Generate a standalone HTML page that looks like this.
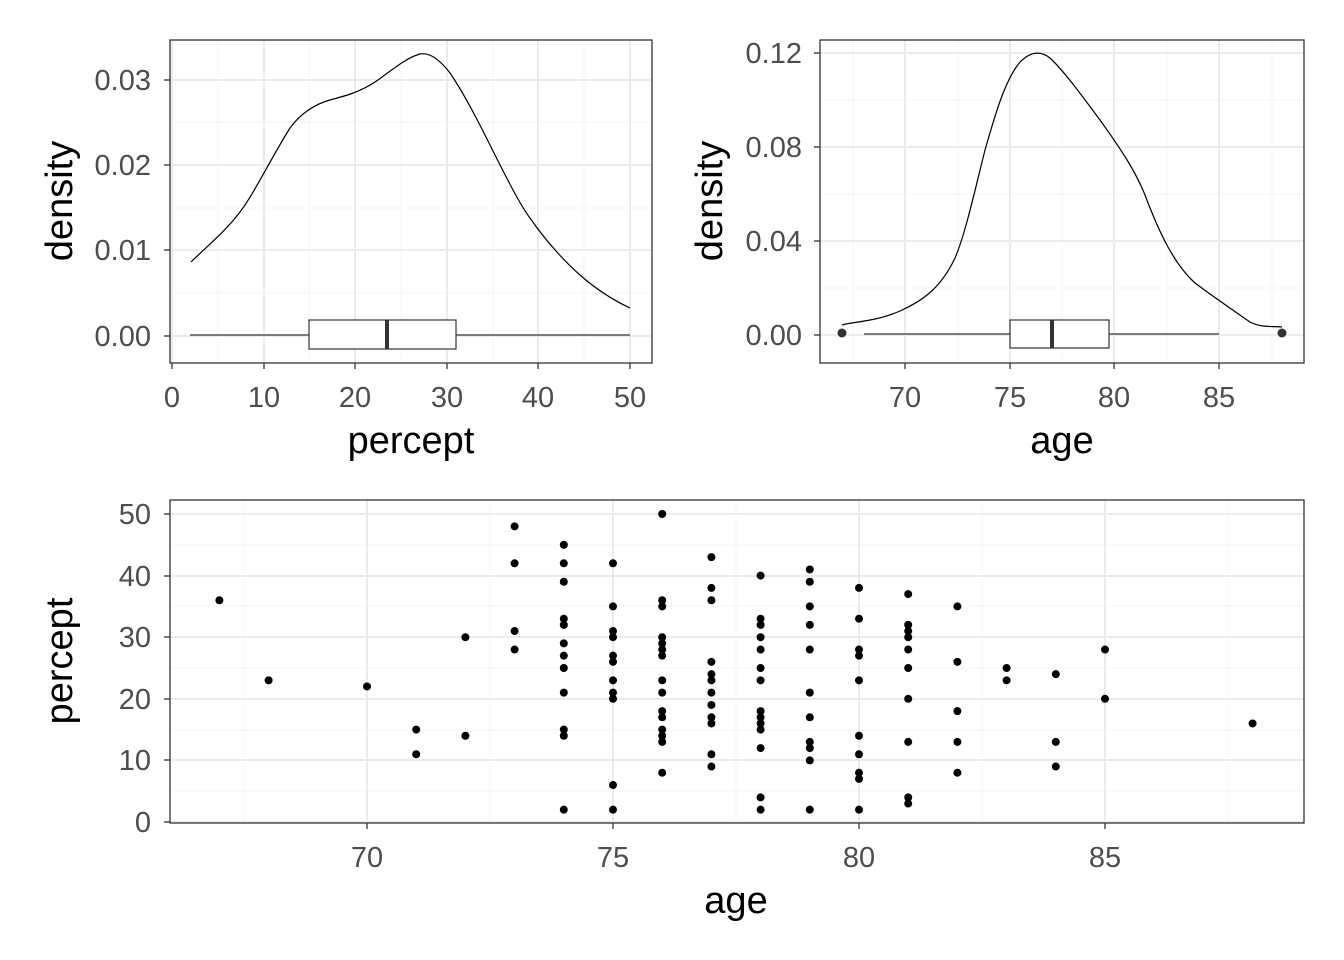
<!DOCTYPE html>
<html><head><meta charset="utf-8"><style>body{margin:0;background:#fff}svg{display:block}text{font-family:"Liberation Sans",sans-serif}</style></head>
<body>
<svg width="1344" height="960" viewBox="0 0 1344 960" xmlns="http://www.w3.org/2000/svg">
<rect width="1344" height="960" fill="#fff"/>
<!-- Panel 1 -->
<g stroke="#f5f5f5" stroke-width="1">
<line x1="218" y1="40" x2="218" y2="363"/><line x1="309" y1="40" x2="309" y2="363"/><line x1="401" y1="40" x2="401" y2="363"/><line x1="493" y1="40" x2="493" y2="363"/><line x1="584" y1="40" x2="584" y2="363"/>
<line x1="170" y1="293" x2="652" y2="293"/><line x1="170" y1="208" x2="652" y2="208"/><line x1="170" y1="122" x2="652" y2="122"/><line x1="170" y1="45" x2="652" y2="45"/>
</g>
<g stroke="#ebebeb" stroke-width="2">
<line x1="172" y1="40" x2="172" y2="363"/><line x1="264" y1="40" x2="264" y2="363"/><line x1="355" y1="40" x2="355" y2="363"/><line x1="447" y1="40" x2="447" y2="363"/><line x1="538" y1="40" x2="538" y2="363"/><line x1="630" y1="40" x2="630" y2="363"/>
<line x1="170" y1="336" x2="652" y2="336"/><line x1="170" y1="250" x2="652" y2="250"/><line x1="170" y1="165" x2="652" y2="165"/><line x1="170" y1="80" x2="652" y2="80"/>
</g>
<path d="M191,262 C205,248 225,232 240,212 C255,192 270,160 290,128 C300,114 315,104 330,100 C345,96 360,92 375,82 C390,72 405,58 420,54 C430,52 440,60 450,73 C465,95 480,125 490,145 C505,175 520,205 530,218 C545,240 565,262 580,275 C597,290 615,301 630,308" fill="none" stroke="#000" stroke-width="1.2"/>
<line x1="190" y1="335" x2="309" y2="335" stroke="#333" stroke-width="1.2"/><line x1="456" y1="335" x2="630" y2="335" stroke="#333" stroke-width="1.2"/>
<rect x="309" y="320" width="147" height="29" fill="#fff" stroke="#333" stroke-width="1.2"/>
<line x1="387" y1="320" x2="387" y2="349" stroke="#333" stroke-width="4"/>
<rect x="170" y="40" width="482" height="323" fill="none" stroke="#333" stroke-width="1.3"/>
<g stroke="#333" stroke-width="1.3">
<line x1="172" y1="363" x2="172" y2="369"/><line x1="264" y1="363" x2="264" y2="369"/><line x1="355" y1="363" x2="355" y2="369"/><line x1="447" y1="363" x2="447" y2="369"/><line x1="538" y1="363" x2="538" y2="369"/><line x1="630" y1="363" x2="630" y2="369"/>
<line x1="164" y1="336" x2="170" y2="336"/><line x1="164" y1="250" x2="170" y2="250"/><line x1="164" y1="165" x2="170" y2="165"/><line x1="164" y1="80" x2="170" y2="80"/>
</g>
<g font-size="29" fill="#4d4d4d" text-anchor="middle">
<text x="172" y="407">0</text><text x="264" y="407">10</text><text x="355" y="407">20</text><text x="447" y="407">30</text><text x="538" y="407">40</text><text x="630" y="407">50</text>
</g>
<g font-size="29" fill="#4d4d4d" text-anchor="end">
<text x="151" y="346">0.00</text><text x="151" y="260">0.01</text><text x="151" y="175">0.02</text><text x="151" y="90">0.03</text>
</g>
<text x="411" y="453" font-size="38" text-anchor="middle">percept</text>
<text transform="translate(72,201) rotate(-90)" font-size="38" text-anchor="middle">density</text>
<!-- Panel 2 -->
<g stroke="#f5f5f5" stroke-width="1">
<line x1="853" y1="40" x2="853" y2="363"/><line x1="958" y1="40" x2="958" y2="363"/><line x1="1062" y1="40" x2="1062" y2="363"/><line x1="1167" y1="40" x2="1167" y2="363"/><line x1="1272" y1="40" x2="1272" y2="363"/>
<line x1="820" y1="288" x2="1304" y2="288"/><line x1="820" y1="194" x2="1304" y2="194"/><line x1="820" y1="100" x2="1304" y2="100"/>
</g>
<g stroke="#ebebeb" stroke-width="2">
<line x1="905" y1="40" x2="905" y2="363"/><line x1="1010" y1="40" x2="1010" y2="363"/><line x1="1114" y1="40" x2="1114" y2="363"/><line x1="1219" y1="40" x2="1219" y2="363"/>
<line x1="820" y1="335" x2="1304" y2="335"/><line x1="820" y1="241" x2="1304" y2="241"/><line x1="820" y1="147" x2="1304" y2="147"/><line x1="820" y1="53" x2="1304" y2="53"/>
</g>
<path d="M842,325 C850,322 875,322 900,311 C920,302 940,290 955,258 C965,235 975,190 985,150 C995,115 1005,80 1020,62 C1030,52 1040,50 1050,58 C1065,72 1085,100 1100,120 C1120,148 1135,170 1145,195 C1160,235 1175,265 1195,283 C1215,298 1240,315 1250,322 C1262,328 1272,326 1282,327" fill="none" stroke="#000" stroke-width="1.2"/>
<line x1="864" y1="334" x2="1010" y2="334" stroke="#333" stroke-width="1.2"/><line x1="1109" y1="334" x2="1219" y2="334" stroke="#333" stroke-width="1.2"/>
<rect x="1010" y="320" width="99" height="28" fill="#fff" stroke="#333" stroke-width="1.2"/>
<line x1="1052" y1="320" x2="1052" y2="348" stroke="#333" stroke-width="4"/>
<circle cx="842" cy="333" r="4.5" fill="#333"/><circle cx="1282" cy="333" r="4.5" fill="#333"/>
<rect x="820" y="40" width="484" height="323" fill="none" stroke="#333" stroke-width="1.3"/>
<g stroke="#333" stroke-width="1.3">
<line x1="905" y1="363" x2="905" y2="369"/><line x1="1010" y1="363" x2="1010" y2="369"/><line x1="1114" y1="363" x2="1114" y2="369"/><line x1="1219" y1="363" x2="1219" y2="369"/>
<line x1="814" y1="335" x2="820" y2="335"/><line x1="814" y1="241" x2="820" y2="241"/><line x1="814" y1="147" x2="820" y2="147"/><line x1="814" y1="53" x2="820" y2="53"/>
</g>
<g font-size="29" fill="#4d4d4d" text-anchor="middle">
<text x="905" y="407">70</text><text x="1010" y="407">75</text><text x="1114" y="407">80</text><text x="1219" y="407">85</text>
</g>
<g font-size="29" fill="#4d4d4d" text-anchor="end">
<text x="802" y="345">0.00</text><text x="802" y="251">0.04</text><text x="802" y="157">0.08</text><text x="802" y="63">0.12</text>
</g>
<text x="1062" y="453" font-size="38" text-anchor="middle">age</text>
<text transform="translate(722,201) rotate(-90)" font-size="38" text-anchor="middle">density</text>
<!-- Panel 3 -->
<g stroke="#f5f5f5" stroke-width="1">
<line x1="244" y1="500" x2="244" y2="823"/><line x1="490" y1="500" x2="490" y2="823"/><line x1="736" y1="500" x2="736" y2="823"/><line x1="982" y1="500" x2="982" y2="823"/><line x1="1228" y1="500" x2="1228" y2="823"/>
<line x1="170" y1="791" x2="1304" y2="791"/><line x1="170" y1="730" x2="1304" y2="730"/><line x1="170" y1="668" x2="1304" y2="668"/><line x1="170" y1="606" x2="1304" y2="606"/><line x1="170" y1="545" x2="1304" y2="545"/>
</g>
<g stroke="#ebebeb" stroke-width="2">
<line x1="367" y1="500" x2="367" y2="823"/><line x1="613" y1="500" x2="613" y2="823"/><line x1="859" y1="500" x2="859" y2="823"/><line x1="1105" y1="500" x2="1105" y2="823"/>
<line x1="170" y1="822" x2="1304" y2="822"/><line x1="170" y1="760" x2="1304" y2="760"/><line x1="170" y1="699" x2="1304" y2="699"/><line x1="170" y1="637" x2="1304" y2="637"/><line x1="170" y1="576" x2="1304" y2="576"/><line x1="170" y1="514" x2="1304" y2="514"/>
</g>
<g fill="#000" id="pts"></g>
<rect x="170" y="500" width="1134" height="323" fill="none" stroke="#333" stroke-width="1.3"/>
<g stroke="#333" stroke-width="1.3">
<line x1="367" y1="823" x2="367" y2="829"/><line x1="613" y1="823" x2="613" y2="829"/><line x1="859" y1="823" x2="859" y2="829"/><line x1="1105" y1="823" x2="1105" y2="829"/>
<line x1="164" y1="822" x2="170" y2="822"/><line x1="164" y1="760" x2="170" y2="760"/><line x1="164" y1="699" x2="170" y2="699"/><line x1="164" y1="637" x2="170" y2="637"/><line x1="164" y1="576" x2="170" y2="576"/><line x1="164" y1="514" x2="170" y2="514"/>
</g>
<g font-size="29" fill="#4d4d4d" text-anchor="middle">
<text x="367" y="867">70</text><text x="613" y="867">75</text><text x="859" y="867">80</text><text x="1105" y="867">85</text>
</g>
<g font-size="29" fill="#4d4d4d" text-anchor="end">
<text x="151" y="832">0</text><text x="151" y="770">10</text><text x="151" y="709">20</text><text x="151" y="647">30</text><text x="151" y="586">40</text><text x="151" y="524">50</text>
</g>
<text x="736" y="913" font-size="38" text-anchor="middle">age</text>
<text transform="translate(72,661) rotate(-90)" font-size="38" text-anchor="middle">percept</text>
</svg>
<script>
var d={67:[36],68:[23],70:[22],71:[15,11],72:[30,14],73:[48,42,31,28],74:[45,42,39,33,32,29,27,25,21,15,14,2],75:[42,35,31,30,27,26,23,21,20,6,2],76:[50,36,35,30,29,28,27,23,21,18,17,15,14,13,8],77:[43,38,36,26,24,23,21,19,17,16,11,9],78:[40,33,32,30,28,25,23,18,17,16,15,12,4,2],79:[41,39,35,32,28,21,17,13,12,10,2],80:[38,33,28,27,23,14,11,8,7,2],81:[37,32,31,30,28,25,20,13,4,3],82:[35,26,18,13,8],83:[25,23],84:[24,13,9],85:[28,20],88:[16]};
var g=document.getElementById('pts'),s='';
for(var a in d){d[a].forEach(function(p){s+='<circle cx="'+(367+(a-70)*49.2)+'" cy="'+(822-p*6.16)+'" r="4"/>';});}
g.innerHTML=s;
</script>
</body></html>
